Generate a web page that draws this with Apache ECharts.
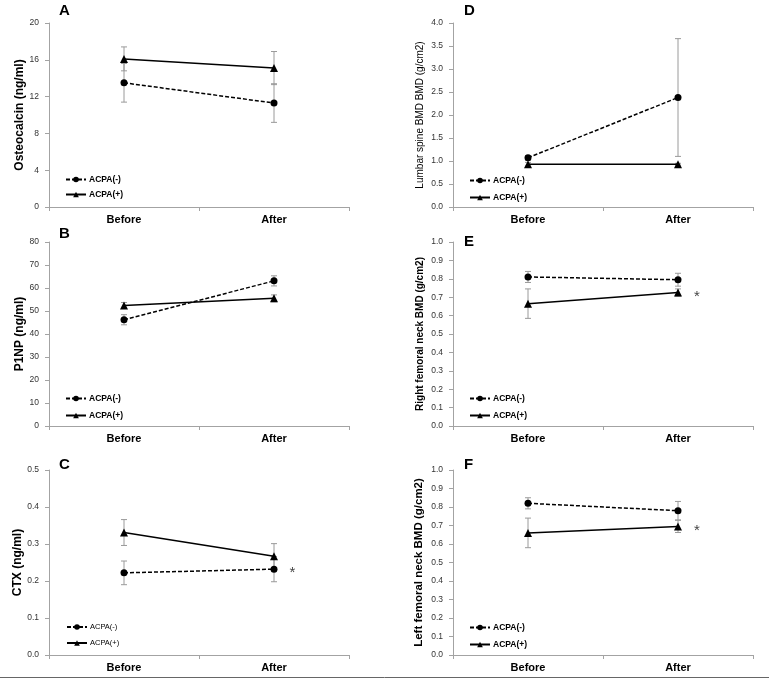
<!DOCTYPE html>
<html>
<head>
<meta charset="utf-8">
<script src="https://cdn.jsdelivr.net/npm/echarts@6/dist/echarts.min.js"></script>
<style>
html,body{margin:0;padding:0;background:#fff;}
#chart{width:773px;height:682px;}
</style>
</head>
<body>
<div id="chart"></div>
<script>
// ---- data ----
const categories = ['Before', 'After'];
const seriesNames = ['ACPA(-)', 'ACPA(+)'];
const panelLetters = ['A', 'B', 'C', 'D', 'E', 'F'];
const yAxisNames = ['Osteocalcin (ng/ml)', 'P1NP (ng/ml)', 'CTX (ng/ml)',
  'Lumbar spine BMD BMD (g/cm2)', 'Right femoral neck BMD (g/cm2)', 'Left femoral neck BMD (g/cm2)'];

// A: Osteocalcin
const oscNeg = [13.5, 11.3];   const oscNegErr = [2.1, 2.1];
const oscPos = [16.1, 15.1];   const oscPosErr = [1.3, 1.8];
// B: P1NP
const p1npNeg = [46.2, 63.1];  const p1npNegErr = [2.2, 2.2];
const p1npPos = [52.4, 55.5];  const p1npPosErr = [1.3, 1.5];
// C: CTX
const ctxNeg = [0.222, 0.232]; const ctxNegErr = [0.032, 0.034];
const ctxPos = [0.331, 0.267]; const ctxPosErr = [0.035, 0.034];
// D: Lumbar spine BMD
const lsNeg = [1.07, 2.38];    const lsNegErr = [0.05, 1.28];
const lsPos = [0.93, 0.93];    const lsPosErr = [0.04, 0.02];
// E: Right femoral neck BMD
const rfnNeg = [0.81, 0.795];  const rfnNegErr = [0.03, 0.035];
const rfnPos = [0.665, 0.725]; const rfnPosErr = [0.08, 0.02];
// F: Left femoral neck BMD
const lfnNeg = [0.82, 0.78];   const lfnNegErr = [0.03, 0.05];
const lfnPos = [0.66, 0.695];  const lfnPosErr = [0.08, 0.033];

// y-axis scales: [min, max, interval, decimals]
const yScaleA = [0, 20, 4, 0];
const yScaleB = [0, 80, 10, 0];
const yScaleC = [0, 0.5, 0.1, 1];
const yScaleD = [0, 4, 0.5, 1];
const yScaleE = [0, 1, 0.1, 1];
const yScaleF = [0, 1, 0.1, 1];

// significance markers: [panel index, series index (0 neg,1 pos), category index]
const sigMarks = [[2, 0, 1], [4, 1, 1], [5, 1, 1]];

// ---- layout & style ----
const FONT = "'Liberation Sans', Arial, sans-serif";
const panels = [
  {neg: oscNeg, negErr: oscNegErr, pos: oscPos, posErr: oscPosErr, scale: yScaleA,
   grid: {left: 49, top: 23, width: 300, height: 184}, nameGap: 22, nameSize: 12, nameWeight: 'bold',
   legend: {left: 65, top: 175, gap: 6}, legendBold: true, letter: {left: 59, top: 3}},
  {neg: p1npNeg, negErr: p1npNegErr, pos: p1npPos, posErr: p1npPosErr, scale: yScaleB,
   grid: {left: 49, top: 242, width: 300, height: 184}, nameGap: 22, nameSize: 12, nameWeight: 'bold',
   legend: {left: 65, top: 394, gap: 8}, legendBold: true, letter: {left: 59, top: 226}},
  {neg: ctxNeg, negErr: ctxNegErr, pos: ctxPos, posErr: ctxPosErr, scale: yScaleC,
   grid: {left: 49, top: 470, width: 300, height: 185}, nameGap: 22, nameSize: 12, nameWeight: 'bold',
   legend: {left: 66, top: 623, gap: 8}, legendBold: false, letter: {left: 59, top: 457}},
  {neg: lsNeg, negErr: lsNegErr, pos: lsPos, posErr: lsPosErr, scale: yScaleD,
   grid: {left: 453, top: 23, width: 300, height: 184}, nameGap: 28, nameSize: 10, nameWeight: 'normal',
   legend: {left: 469, top: 176, gap: 8}, legendBold: true, letter: {left: 464, top: 3}},
  {neg: rfnNeg, negErr: rfnNegErr, pos: rfnPos, posErr: rfnPosErr, scale: yScaleE,
   grid: {left: 453, top: 242, width: 300, height: 184}, nameGap: 28, nameSize: 10, nameWeight: 'bold',
   legend: {left: 469, top: 394, gap: 8}, legendBold: true, letter: {left: 464, top: 234}},
  {neg: lfnNeg, negErr: lfnNegErr, pos: lfnPos, posErr: lfnPosErr, scale: yScaleF,
   grid: {left: 453, top: 470, width: 300, height: 185}, nameGap: 28, nameSize: 11.5, nameWeight: 'bold',
   legend: {left: 469, top: 623, gap: 8}, legendBold: true, letter: {left: 464, top: 457}}
];

const AXIS_COLOR = '#a3a3a3';
const ERR_COLOR = '#9a9a9a';

function errRender(params, api) {
  const x = api.value(0);
  const lo = api.coord([x, api.value(1)]);
  const hi = api.coord([x, api.value(2)]);
  const w = 3;
  const st = {stroke: ERR_COLOR, lineWidth: 1};
  return {type: 'group', children: [
    {type: 'line', shape: {x1: lo[0], y1: lo[1], x2: hi[0], y2: hi[1]}, style: st},
    {type: 'line', shape: {x1: lo[0] - w, y1: lo[1], x2: lo[0] + w, y2: lo[1]}, style: st},
    {type: 'line', shape: {x1: hi[0] - w, y1: hi[1], x2: hi[0] + w, y2: hi[1]}, style: st}
  ]};
}

const grids = [], xAxes = [], yAxes = [], series = [], legends = [], titles = [];

panels.forEach((p, i) => {
  grids.push(Object.assign({containLabel: false}, p.grid));
  xAxes.push({
    type: 'category', gridIndex: i, data: categories, boundaryGap: true,
    axisLine: {lineStyle: {color: AXIS_COLOR, width: 1}},
    axisTick: {show: true, length: 4, lineStyle: {color: AXIS_COLOR}},
    axisLabel: {margin: 7, color: '#000', fontFamily: FONT, fontSize: 11, fontWeight: 'bold', interval: 0},
    splitLine: {show: false}
  });
  const sc = p.scale;
  yAxes.push({
    type: 'value', gridIndex: i, min: sc[0], max: sc[1], interval: sc[2],
    name: yAxisNames[i], nameLocation: 'middle', nameGap: p.nameGap, nameRotate: 90,
    nameTextStyle: {color: '#000', fontFamily: FONT, fontSize: p.nameSize, fontWeight: p.nameWeight},
    axisLine: {show: true, lineStyle: {color: AXIS_COLOR, width: 1}},
    axisTick: {show: true, length: 4, lineStyle: {color: AXIS_COLOR}},
    axisLabel: {margin: 10, color: '#333', fontFamily: FONT, fontSize: 8.5,
      formatter: v => v.toFixed(sc[3])},
    splitLine: {show: false}
  });
  const groups = [
    {name: seriesNames[0], vals: p.neg, errs: p.negErr, symbol: 'circle', dash: [4, 2]},
    {name: seriesNames[1], vals: p.pos, errs: p.posErr, symbol: 'triangle', dash: 'solid'}
  ];
  groups.forEach((g, si) => {
    series.push({
      type: 'custom', xAxisIndex: i, yAxisIndex: i, z: 1, silent: true,
      renderItem: errRender,
      encode: {x: 0, y: [1, 2]},
      data: g.vals.map((v, k) => [k, v - g.errs[k], v + g.errs[k]])
    });
  });
  groups.forEach((g, si) => {
    const data = g.vals.map((v, k) => {
      const hasSig = sigMarks.some(m => m[0] === i && m[1] === si && m[2] === k);
      if (!hasSig) return v;
      return {value: v, label: {show: true, formatter: '*', position: 'right', distance: 0,
        offset: [12, 4], color: '#444', fontSize: 15, fontFamily: FONT}};
    });
    series.push({
      name: g.name, type: 'line', xAxisIndex: i, yAxisIndex: i, z: 3,
      data: data, symbol: g.symbol, symbolSize: g.symbol === 'circle' ? 7 : 8,
      showAllSymbol: true, animation: false,
      itemStyle: {color: '#000'},
      lineStyle: {color: '#000', width: 1.5, type: g.dash},
      label: {show: false}
    });
  });
  legends.push({
    orient: 'vertical', left: p.legend.left, top: p.legend.top,
    data: seriesNames, itemWidth: 20, itemHeight: 7, itemGap: p.legend.gap, padding: 0,
    selectedMode: false,
    textStyle: {color: '#000', fontFamily: FONT, fontSize: p.legendBold ? 8.5 : 7.5,
      fontWeight: p.legendBold ? 'bold' : 'normal', padding: [0, 0, 0, -2]}
  });
  titles.push({
    text: panelLetters[i], left: p.letter.left, top: p.letter.top, padding: 0,
    textStyle: {color: '#000', fontFamily: FONT, fontSize: 15, fontWeight: 'bold'}
  });
});

const chart = echarts.init(document.getElementById('chart'), null, {renderer: 'canvas'});
chart.setOption({
  backgroundColor: '#fff',
  animation: false,
  title: titles,
  legend: legends,
  grid: grids,
  xAxis: xAxes,
  yAxis: yAxes,
  series: series,
  graphic: [{
    type: 'line', shape: {x1: 0, y1: 677.5, x2: 769, y2: 677.5},
    style: {stroke: '#666', lineWidth: 1}, silent: true
  }]
});
</script>
</body>
</html>
